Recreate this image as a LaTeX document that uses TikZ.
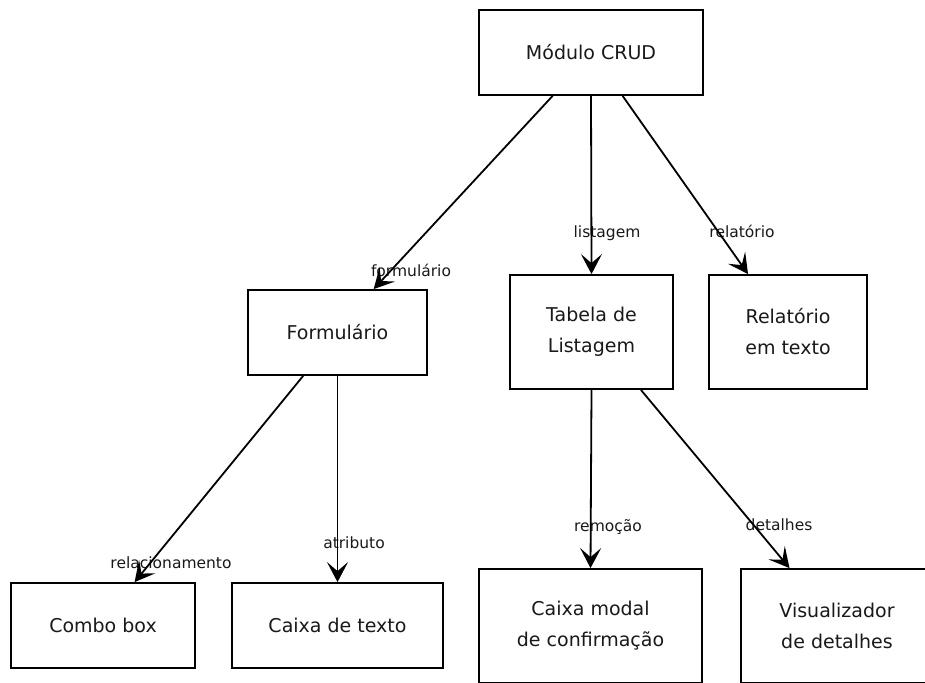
\documentclass[tikz,border=0pt]{standalone}
\usepackage{fontspec}
\setmainfont{DejaVu Sans}
\usetikzlibrary{arrows.meta,calc}

\tikzset{
  box/.style={draw=black, line width=1.8pt, inner sep=0pt, align=center,
    text=black!90, font=\fontsize{19pt}{31pt}\selectfont},
  elabel/.style={inner sep=0pt, text=black!90, font=\fontsize{15.5pt}{18pt}\selectfont},
  link/.style={draw=black, line width=1.8pt,
    -{Stealth[length=20pt, width=21pt, inset=9pt]}},
}

\begin{document}
\begin{tikzpicture}[x=1pt, y=-1pt]
  \clip (0,0) rectangle (925,682);
  \fill[white] (0,0) rectangle (925,682);

  % module and its three parts
  \node[box, minimum width=224pt, minimum height=85pt] (crud) at (591,52.5) {Módulo CRUD};
  \node[box, minimum width=179pt, minimum height=85pt] (form) at (337.5,332.5) {Formulário};
  \node[box, minimum width=163pt, minimum height=114pt] (tab) at (591.5,332) {Tabela de\\Listagem};
  \node[box, minimum width=158pt, minimum height=114pt] (rel) at (788,332) {Relatório\\em texto};

  % form widgets
  \node[box, minimum width=184pt, minimum height=85pt] (combo) at (103,625.5) {Combo box};
  \node[box, minimum width=211pt, minimum height=85pt] (texto) at (337.5,625.5) {Caixa de texto};

  % listing actions
  \node[box, minimum width=223pt, minimum height=114pt] (modal) at (590.5,626) {Caixa modal\\de confirmação};
  \node[box, minimum width=192pt, minimum height=114pt] (vis) at (837,626) {Visualizador\\de detalhes};

  % edge labels
  \node[elabel] (lform) at (411,270) {formulário};
  \node[elabel] (llist) at (607,233) {listagem};
  \node[elabel] (lrel) at (742,231) {relatório};
  \node[elabel] (lrelac) at (171,563) {relacionamento};
  \node[elabel] (latr) at (354,543) {atributo};
  \node[elabel] (lrem) at (608,527) {remoção};
  \node[elabel] (ldet) at (779,525) {detalhes};

  % connectors
  \draw[link] ($(crud.south west)!0.33!(crud.south east)$) -- ($(form.north west)!0.70!(form.north east)$);
  \draw[link] (crud.south) -- (tab.north);
  \draw[link] ($(crud.south west)!0.64!(crud.south east)$) -- ($(rel.north west)!0.25!(rel.north east)$);
  \draw[link] ($(form.south west)!0.31!(form.south east)$) -- ($(combo.north west)!0.67!(combo.north east)$);
  \draw[link] (form.south) -- (texto.north);
  \draw[link] (tab.south) -- (modal.north);
  \draw[link] ($(tab.south west)!0.80!(tab.south east)$) -- ($(vis.north west)!0.255!(vis.north east)$);
\end{tikzpicture}
\end{document}
